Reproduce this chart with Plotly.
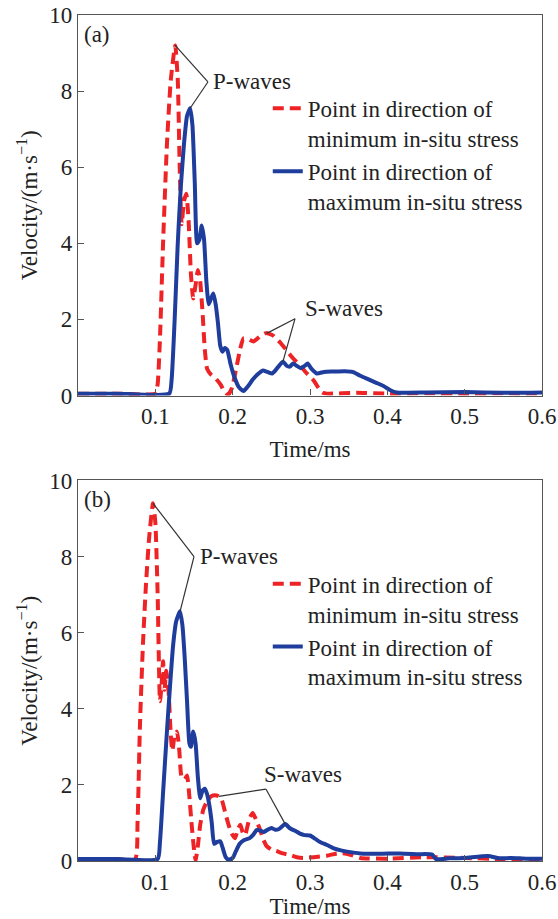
import numpy as np
import plotly.graph_objects as go

# ---------------- data ----------------
# Panel (a)
a_min_t = [0.0, 0.05, 0.100, 0.103, 0.106, 0.110, 0.115, 0.120, 0.1257, 0.129, 0.1315, 0.134, 0.137,
           0.140, 0.143, 0.146, 0.149, 0.152, 0.155, 0.158, 0.161, 0.164, 0.167, 0.172, 0.178,
           0.184, 0.189, 0.194, 0.199, 0.205, 0.210, 0.214, 0.220, 0.227, 0.235, 0.243, 0.252,
           0.262, 0.270, 0.278, 0.287, 0.296, 0.305, 0.311, 0.316, 0.322, 0.36, 0.40, 0.45,
           0.50, 0.55, 0.60]
a_min_v = [0.05, 0.05, 0.05, 0.3, 1.5, 4.0, 6.6, 8.3, 9.2, 8.3, 6.0, 4.5, 5.1,
           5.3, 4.6, 3.2, 2.55, 2.9, 3.3, 3.0, 2.2, 1.2, 0.7, 0.55, 0.45,
           0.3, 0.12, 0.02, 0.2, 0.75, 1.25, 1.5, 1.48, 1.42, 1.55, 1.64, 1.58,
           1.38, 1.18, 0.98, 0.79, 0.58, 0.39, 0.2, 0.08, 0.05, 0.07, 0.05, 0.06,
           0.05, 0.06, 0.05]
a_max_t = [0.0, 0.05, 0.118, 0.121, 0.125, 0.129, 0.133, 0.137, 0.141, 0.145, 0.148, 0.151, 0.154,
           0.157, 0.160, 0.163, 0.166, 0.169, 0.172, 0.175, 0.178, 0.181, 0.184, 0.187, 0.190,
           0.193, 0.197, 0.202, 0.208, 0.214, 0.220, 0.226, 0.232, 0.239, 0.245, 0.251, 0.256,
           0.260, 0.265, 0.270, 0.274, 0.278, 0.283, 0.288, 0.293, 0.297, 0.302, 0.309, 0.318,
           0.330, 0.345, 0.355, 0.365, 0.375, 0.385, 0.395, 0.404, 0.412, 0.45, 0.50, 0.55, 0.60]
a_max_v = [0.05, 0.05, 0.05, 0.4, 2.0, 4.0, 5.5, 6.6, 7.35, 7.55, 7.1, 5.6, 4.0,
           4.1, 4.47, 4.1, 3.0, 2.4, 2.55, 2.68, 2.4, 1.9, 1.3, 1.15, 1.25,
           1.2, 0.85, 0.5, 0.22, 0.12, 0.25, 0.42, 0.55, 0.66, 0.62, 0.58, 0.68,
           0.78, 0.89, 0.78, 0.76, 0.84, 0.78, 0.72, 0.78, 0.84, 0.7, 0.58, 0.62,
           0.63, 0.64, 0.62, 0.52, 0.43, 0.34, 0.25, 0.14, 0.08, 0.08, 0.09, 0.07, 0.08]

# Panel (b)
b_min_t = [0.0, 0.05, 0.074, 0.077, 0.080, 0.084, 0.088, 0.092, 0.097, 0.100, 0.103, 0.106, 0.108,
           0.110, 0.112, 0.114, 0.117, 0.120, 0.122, 0.125, 0.128, 0.131, 0.134, 0.138, 0.141,
           0.144, 0.147, 0.150, 0.152, 0.155, 0.158, 0.162, 0.167, 0.172, 0.177, 0.182, 0.186,
           0.190, 0.194, 0.198, 0.203, 0.207, 0.210, 0.213, 0.216, 0.219, 0.222, 0.226, 0.230,
           0.236, 0.240, 0.244, 0.250, 0.257, 0.265, 0.274, 0.283, 0.291, 0.305, 0.322, 0.335,
           0.345, 0.355, 0.365, 0.40, 0.45, 0.50, 0.55, 0.60]
b_min_v = [0.05, 0.05, 0.05, 1.0, 3.5, 5.7, 7.3, 8.5, 9.4, 8.9, 7.0, 4.2, 4.6,
           5.25, 4.5, 5.0, 4.5, 3.3, 2.9, 3.3, 3.4, 2.9, 2.2, 2.15, 2.25,
           1.7, 0.95, 0.3, 0.02, 0.4, 0.95, 1.35, 1.57, 1.7, 1.73, 1.7, 1.6,
           1.3, 1.0, 0.75, 0.6, 0.85, 0.95, 0.75, 0.68, 0.9, 1.13, 1.26, 1.1,
           0.79, 0.55, 0.39, 0.3, 0.26, 0.2, 0.16, 0.1, 0.08, 0.1, 0.14, 0.2,
           0.2, 0.15, 0.08, 0.06, 0.1, 0.08, 0.05, 0.05]
b_max_t = [0.0, 0.05, 0.103, 0.106, 0.110, 0.115, 0.119, 0.123, 0.127, 0.132, 0.135, 0.138, 0.141,
           0.144, 0.146, 0.149, 0.152, 0.155, 0.158, 0.161, 0.164, 0.167, 0.170, 0.173, 0.176,
           0.180, 0.184, 0.187, 0.191, 0.195, 0.200, 0.204, 0.209, 0.215, 0.222, 0.227, 0.231,
           0.236, 0.240, 0.245, 0.250, 0.255, 0.260, 0.268, 0.274, 0.280, 0.287, 0.293, 0.300,
           0.307, 0.313, 0.322, 0.330, 0.340, 0.350, 0.365, 0.390, 0.416, 0.440, 0.458, 0.463,
           0.480, 0.500, 0.530, 0.545, 0.560, 0.580, 0.600]
b_max_v = [0.05, 0.05, 0.05, 0.5, 1.8, 3.4, 4.6, 5.67, 6.3, 6.56, 6.2, 5.33, 4.2,
           3.1, 3.0, 3.4, 3.1, 2.2, 1.65, 1.85, 1.9, 1.75, 1.45, 1.0, 0.45,
           0.5, 0.52, 0.35, 0.1, 0.03, 0.08, 0.25, 0.45, 0.55, 0.6, 0.7, 0.81,
           0.8, 0.76, 0.82, 0.87, 0.82, 0.84, 0.97, 0.86, 0.8, 0.72, 0.68, 0.67,
           0.58, 0.5, 0.42, 0.34, 0.28, 0.24, 0.2, 0.19, 0.2, 0.18, 0.17, 0.05,
           0.07, 0.08, 0.13, 0.07, 0.08, 0.06, 0.06]

x_ticks = [0.1, 0.2, 0.3, 0.4, 0.5, 0.6]
x_tick_text = ["0.1", "0.2", "0.3", "0.4", "0.5", "0.6"]
y_ticks = [0, 2, 4, 6, 8, 10]
y_tick_text = ["0", "2", "4", "6", "8", "10"]

name_min = "Point in direction of<br>minimum in-situ stress"
name_max = "Point in direction of<br>maximum in-situ stress"

# ---------------- style ----------------
SERIF = "Liberation Serif, Times New Roman, serif"
RED = "#ee2326"
BLUE = "#1e3d9c"
TXT = "#222222"
AX = "#555555"
FS = 23

fig = go.Figure()


def add_panel(t_min, v_min, t_max, v_max, xa, ya, legend_name):
    fig.add_trace(go.Scatter(x=t_min, y=v_min, mode="lines", name=name_min,
                             line=dict(color=RED, width=4, dash="11px,6px", shape="spline", smoothing=0.5),
                             xaxis=xa, yaxis=ya, legend=legend_name))
    fig.add_trace(go.Scatter(x=t_max, y=v_max, mode="lines", name=name_max,
                             line=dict(color=BLUE, width=4, shape="spline", smoothing=0.5),
                             xaxis=xa, yaxis=ya, legend=legend_name))


add_panel(a_min_t, a_min_v, a_max_t, a_max_v, "x", "y", "legend")
add_panel(b_min_t, b_min_v, b_max_t, b_max_v, "x2", "y2", "legend2")


def y_at(ts, vs, t):
    return float(np.interp(t, ts, vs))


def peak(ts, vs):
    i = int(np.argmax(vs))
    return ts[i], vs[i]


shapes = []
annotations = []


def leader(xref, yref, p_from, p_to):
    shapes.append(dict(type="line", xref=xref, yref=yref, x0=p_from[0], y0=p_from[1],
                       x1=p_to[0], y1=p_to[1], line=dict(color="#333333", width=1.2)))


def label(xref, yref, x, y, text):
    annotations.append(dict(xref=xref, yref=yref, x=x, y=y, text=text, showarrow=False,
                            xanchor="left", yanchor="middle",
                            font=dict(family=SERIF, size=FS, color=TXT)))


# Panel (a) annotations
jp = (0.168, 8.24)
leader("x", "y", peak(a_min_t, a_min_v), jp)
leader("x", "y", peak(a_max_t, a_max_v), jp)
label("x", "y", 0.1725, 8.24, "P-waves")
js = (0.2806, 2.02)
leader("x", "y", (0.244, y_at(a_min_t, a_min_v, 0.244)), js)
leader("x", "y", (0.265, y_at(a_max_t, a_max_v, 0.265)), js)
label("x", "y", 0.2915, 2.28, "S-waves")

# Panel (b) annotations
jp2 = (0.150, 8.0)
leader("x2", "y2", peak(b_min_t, b_min_v), jp2)
leader("x2", "y2", peak(b_max_t, b_max_v), jp2)
label("x2", "y2", 0.155, 8.0, "P-waves")
js2 = (0.243, 1.89)
leader("x2", "y2", (0.182, y_at(b_min_t, b_min_v, 0.182)), js2)
leader("x2", "y2", (0.268, y_at(b_max_t, b_max_v, 0.268)), js2)
label("x2", "y2", 0.238, 2.26, "S-waves")

for ref, txt in [("", "(a)"), ("2", "(b)")]:
    annotations.append(dict(xref="x%s domain" % ref, yref="y%s domain" % ref, x=0.008, y=0.95,
                            text=txt, showarrow=False, xanchor="left", yanchor="middle",
                            font=dict(family=SERIF, size=FS, color=TXT)))

xcommon = dict(range=[0, 0.6], tickvals=x_ticks, ticktext=x_tick_text, ticks="inside", ticklen=6,
               tickcolor=AX, tickwidth=1, showline=True, linecolor=AX, linewidth=1.3, mirror=True,
               showgrid=False, zeroline=False, automargin=False,
               tickfont=dict(family=SERIF, size=FS, color=TXT))
ycommon = dict(range=[0, 10], tickvals=y_ticks, ticktext=y_tick_text, ticks="inside", ticklen=6,
               tickcolor=AX, tickwidth=1, showline=True, linecolor=AX, linewidth=1.3, mirror=True,
               showgrid=False, zeroline=False, automargin=False,
               tickfont=dict(family=SERIF, size=FS, color=TXT))

xtitle = "Time/ms"
ytitle = "Velocity/(m·s<sup>−1</sup>)"

legend_common = dict(xanchor="left", yanchor="top", valign="top", bgcolor="rgba(0,0,0,0)",
                     tracegroupgap=0, itemwidth=30, traceorder="normal",
                     font=dict(family=SERIF, size=FS, color=TXT))

fig.update_layout(
    width=558, height=919,
    margin=dict(l=78, r=16, t=15, b=58, autoexpand=False),
    paper_bgcolor="white", plot_bgcolor="white",
    showlegend=True,
    xaxis=dict(domain=[0, 1], anchor="y",
               title=dict(text=xtitle, font=dict(family=SERIF, size=FS, color=TXT), standoff=12),
               **xcommon),
    yaxis=dict(domain=[0.5502, 1], anchor="x",
               title=dict(text=ytitle, font=dict(family=SERIF, size=FS, color=TXT), standoff=5),
               **ycommon),
    xaxis2=dict(domain=[0, 1], anchor="y2",
                title=dict(text=xtitle, font=dict(family=SERIF, size=FS, color=TXT), standoff=3),
                **xcommon),
    yaxis2=dict(domain=[0, 0.4498], anchor="x2",
                title=dict(text=ytitle, font=dict(family=SERIF, size=FS, color=TXT), standoff=5),
                **ycommon),
    legend=dict(x=0.409, y=0.915, **legend_common),
    legend2=dict(x=0.409, y=0.353, **legend_common),
    shapes=shapes,
    annotations=annotations,
)

fig.write_html("out.html")
